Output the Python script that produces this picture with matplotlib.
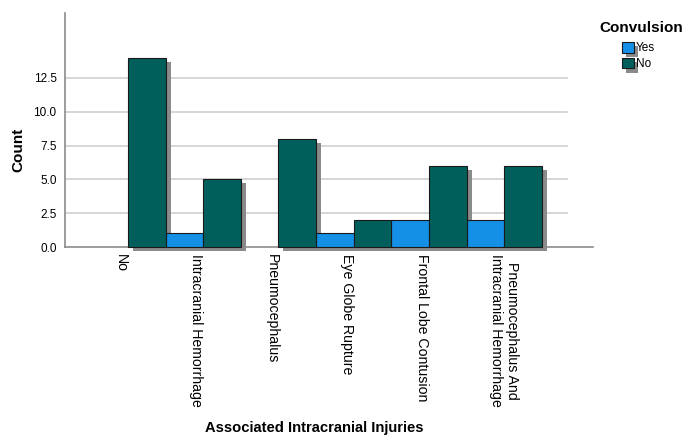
import matplotlib
matplotlib.use("Agg")
import matplotlib.pyplot as plt
import matplotlib.patheffects as pe
import matplotlib.transforms as mtrans
from matplotlib.patches import Patch
import numpy as np

categories = ["No", "Intracranial Hemorrhage", "Pneumocephalus", "Eye Globe Rupture",
              "Frontal Lobe Contusion", "Pneumocephalus And\nIntracranial Hemorrhage"]
yes_counts = [0, 1, 0, 1, 2, 2]
no_counts = [14, 5, 8, 2, 6, 6]
series_names = ["Yes", "No"]
yticks = [0, 2.5, 5.0, 7.5, 10.0, 12.5]

yes_color = "#1490E6"
no_color = "#005E5B"
shadow_color = "#8a8a8a"
edge = "#1a1a1a"

plt.rcParams["font.family"] = ["Liberation Sans", "DejaVu Sans"]

fig = plt.figure(figsize=(6.84, 4.36), dpi=100)
ax = fig.add_axes([65/684, 1-247/436, (593-65)/684, (247-13)/436])

x = np.arange(len(categories))
w = 0.5
shadow_tr = ax.transData + mtrans.ScaledTranslation(5/100, -4/100, fig.dpi_scale_trans)
for xs, vals in ((x - w/2, yes_counts), (x + w/2, no_counts)):
    sb = ax.bar(xs, vals, width=w, color=shadow_color, linewidth=0, zorder=2, clip_on=False,
                transform=shadow_tr)
    for r, v in zip(sb, vals):
        r.set_visible(v > 0)

b1 = ax.bar(x - w/2, yes_counts, width=w, color=yes_color, edgecolor=edge, linewidth=0.8,
            zorder=3, clip_on=False)
b2 = ax.bar(x + w/2, no_counts, width=w, color=no_color, edgecolor=edge, linewidth=0.8,
            zorder=3, clip_on=False)
for bars, vals in ((b1, yes_counts), (b2, no_counts)):
    for r, v in zip(bars, vals):
        r.set_visible(v > 0)

ax.set_xlim(-0.837, 6.18)
ax.set_ylim(0, 17.3)
ax.set_yticks(yticks)
ax.set_yticklabels([f"{v:.1f}" for v in yticks], fontsize=8.5)
for v in yticks[1:]:
    ax.axhline(v, xmin=0, xmax=(567-65)/(593-65), color="#cfcfcf", linewidth=1.2, zorder=1)

ax.set_xticks(x)
ax.set_xticklabels(categories, rotation=270, fontsize=10.2, va="top", ha="right")
for lab in ax.get_xticklabels():
    if "\n" in lab.get_text():
        lab.set_ha("center")
ax.tick_params(axis="both", length=0)
ax.tick_params(axis="x", pad=5)
ax.tick_params(axis="y", pad=6)

for s in ("top", "right"):
    ax.spines[s].set_visible(False)
for s in ("left", "bottom"):
    ax.spines[s].set_color("#8c8c8c")
    ax.spines[s].set_linewidth(1.2)

fig.text(18/684, 1-150/436, "Count", rotation=90, fontsize=11, fontweight="bold",
         ha="center", va="center")
fig.text(314/684, 1-428/436, "Associated Intracranial Injuries", fontsize=10.6, fontweight="bold",
         ha="center", va="center")

fig.text(641/684, 1-28/436, "Convulsion", fontsize=11, fontweight="bold", ha="center", va="center")
shadow = [pe.SimplePatchShadow(offset=(3.0, -3.0), shadow_rgbFace=shadow_color, alpha=1.0), pe.Normal()]
handles = [Patch(facecolor=yes_color, edgecolor=edge, linewidth=0.8, path_effects=shadow),
           Patch(facecolor=no_color, edgecolor=edge, linewidth=0.8, path_effects=shadow)]
fig.legend(handles, series_names, loc="upper left", bbox_to_anchor=(622/684, 1-42/436),
           frameon=False, fontsize=8.5, handlelength=1.0, handleheight=1.0,
           handletextpad=0.2, labelspacing=0.3, borderpad=0, borderaxespad=0)

fig.savefig("out.png", dpi=100)
